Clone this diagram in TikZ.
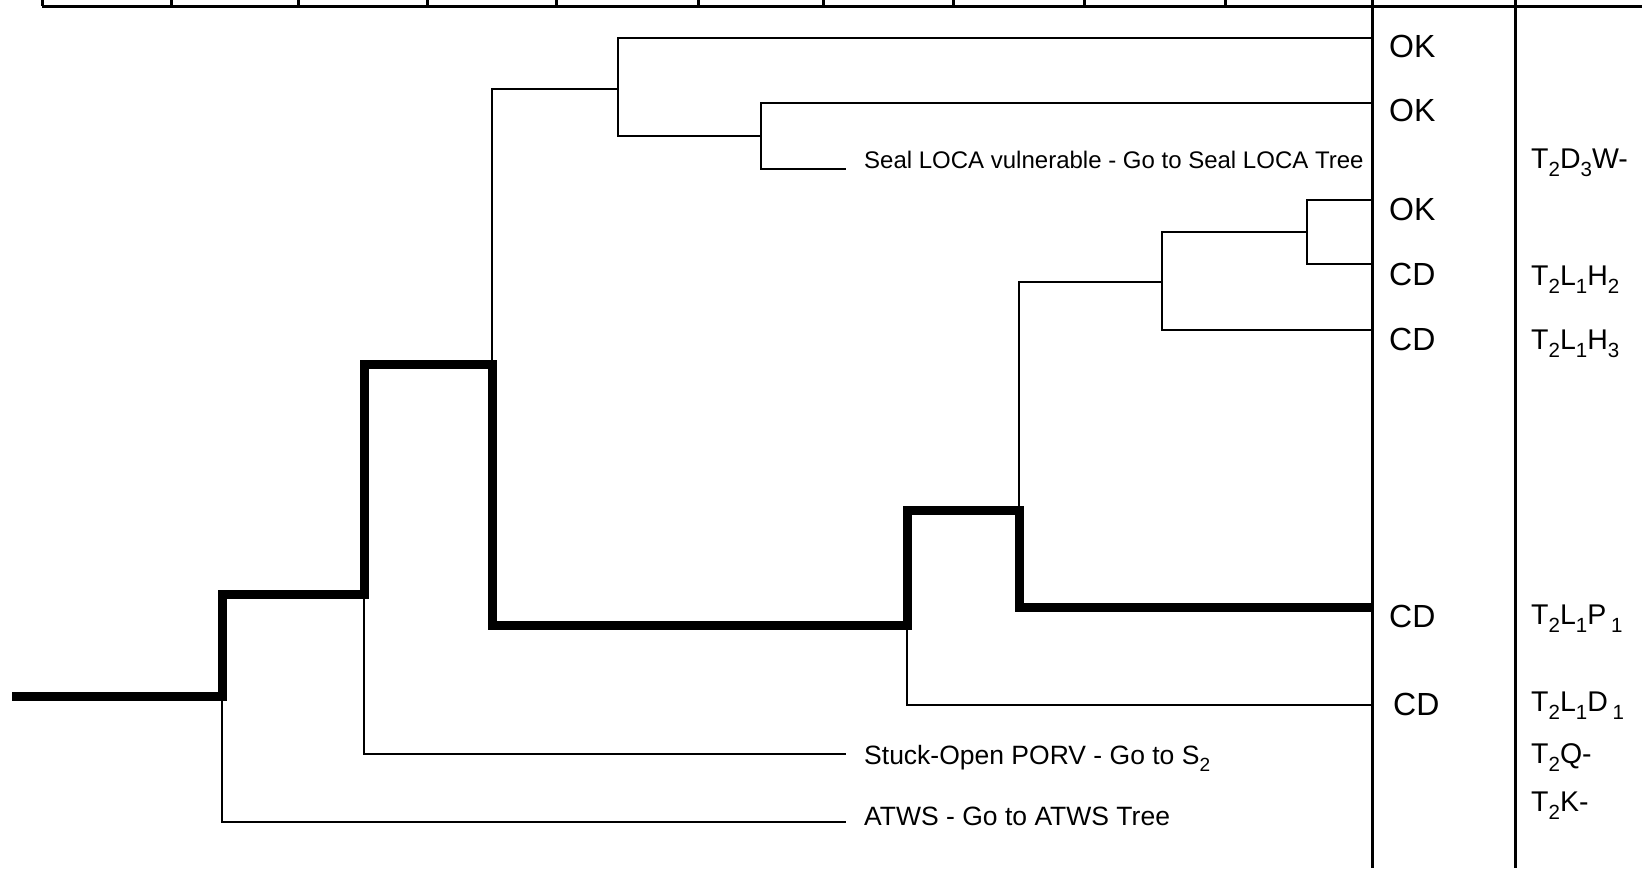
\documentclass[tikz,border=0pt]{standalone}
\usepackage{fontspec}
\setmainfont{Liberation Sans}
\newcommand\lsub[1]{\raisebox{-0.3em}{\scalebox{0.72}{#1}}}
\tikzset{
  thin line/.style={line width=2.7pt, line join=miter},
  thick line/.style={line width=9pt, line join=miter},
  divider/.style={line width=3pt},
  outcome/.style={anchor=base west, inner sep=0pt, font=\fontsize{32}{36}\selectfont},
  seq/.style={anchor=base west, inner sep=0pt, font=\fontsize{28.5}{32}\selectfont},
  branchlabel/.style={anchor=base west, inner sep=0pt, font=\fontsize{26.5}{30}\selectfont}
}
\begin{document}
\begin{tikzpicture}[x=1pt,y=-1pt]
\useasboundingbox (0,0) rectangle (1642,868);
% header line with ticks
\coordinate (hl) at (42,6);
\coordinate (hr) at (1642,6);
\draw[divider] (hl) -- (hr);
\foreach \t in {42,171,298,427,556,698,823,953,1084,1225}
  \draw[divider] (\t,0) -- (\t,6);
% column dividers
\coordinate (d1t) at (1372,0); \coordinate (d1b) at (1372,868);
\coordinate (d2t) at (1515,0); \coordinate (d2b) at (1515,868);
\draw[divider] (d1t) -- (d1b);
\draw[divider] (d2t) -- (d2b);
% branch points
\coordinate (start) at (12,696);
\coordinate (b1in) at (222,696); \coordinate (b1up) at (222,594); \coordinate (b1down) at (222,822);
\coordinate (b2in) at (364,594); \coordinate (b2up) at (364,364); \coordinate (b2down) at (364,754);
\coordinate (b3in) at (492,364); \coordinate (b3up) at (492,89);  \coordinate (b3down) at (492,625);
\coordinate (b4in) at (618,89);  \coordinate (b4up) at (618,38);  \coordinate (b4down) at (618,136);
\coordinate (b5in) at (761,136); \coordinate (b5up) at (761,103); \coordinate (b5down) at (761,169);
\coordinate (b6in) at (907,625); \coordinate (b6up) at (907,510); \coordinate (b6down) at (907,705);
\coordinate (b7in) at (1019,510); \coordinate (b7up) at (1019,282); \coordinate (b7down) at (1019,607);
\coordinate (b8in) at (1162,282); \coordinate (b8up) at (1162,232); \coordinate (b8down) at (1162,330);
\coordinate (b9in) at (1307,232); \coordinate (b9up) at (1307,200); \coordinate (b9down) at (1307,264);
% end points
\coordinate (eok1) at (1372,38);
\coordinate (eok2) at (1372,103);
\coordinate (eseal) at (846,169);
\coordinate (eok3) at (1372,200);
\coordinate (ecd1) at (1372,264);
\coordinate (ecd2) at (1372,330);
\coordinate (ecd3) at (1372,607);
\coordinate (ecd4) at (1372,705);
\coordinate (eporv) at (846,754);
\coordinate (eatws) at (846,822);
% thin branches
\draw[thin line] (b1in) -- (b1down) -- (eatws);
\draw[thin line] (b2in) -- (b2down) -- (eporv);
\draw[thin line] (b3in) -- (b3up) -- (b4in);
\draw[thin line] (eok1) -- (b4up) -- (b4down) -- (b5in);
\draw[thin line] (eok2) -- (b5up) -- (b5down) -- (eseal);
\draw[thin line] (b6in) -- (b6down) -- (ecd4);
\draw[thin line] (b7in) -- (b7up) -- (b8in);
\draw[thin line] (b9in) -- (b8up) -- (b8down) -- (ecd2);
\draw[thin line] (eok3) -- (b9up) -- (b9down) -- (ecd1);
% highlighted sequence
\draw[thick line] (start) -- (b1in) -- (b1up) -- (b2in) -- (b2up) -- (b3in) -- (b3down)
  -- (b6in) -- (b6up) -- (b7in) -- (b7down) -- (ecd3);
% outcome labels
\node[outcome] (ok1) at (1389,57) {OK};
\node[outcome] (ok2) at (1389,121) {OK};
\node[outcome] (ok3) at (1389,220) {OK};
\node[outcome] (cd1) at (1389,285) {CD};
\node[outcome] (cd2) at (1389,350) {CD};
\node[outcome] (cd3) at (1389,627) {CD};
\node[outcome] (cd4) at (1393,715) {CD};
% branch text labels
\node[branchlabel, font=\fontsize{24}{28}\selectfont] (seal) at (864,168) {Seal LOCA vulnerable - Go to Seal LOCA Tree};
\node[branchlabel] (porv) at (864,764) {Stuck-Open PORV - Go to S\lsub{2}};
\node[branchlabel] (atws) at (864,825) {ATWS - Go to ATWS Tree};
% sequence labels
\node[seq] (s1) at (1531,168) {T\lsub{2}D\lsub{3}W-};
\node[seq] (s2) at (1531,285) {T\lsub{2}L\lsub{1}H\lsub{2}};
\node[seq] (s3) at (1531,349) {T\lsub{2}L\lsub{1}H\lsub{3}};
\node[seq] (s4) at (1531,624) {T\lsub{2}L\lsub{1}P\,\lsub{1}};
\node[seq] (s5) at (1531,711) {T\lsub{2}L\lsub{1}D\,\lsub{1}};
\node[seq] (s6) at (1531,763) {T\lsub{2}Q-};
\node[seq] (s7) at (1531,811) {T\lsub{2}K-};
\end{tikzpicture}
\end{document}
